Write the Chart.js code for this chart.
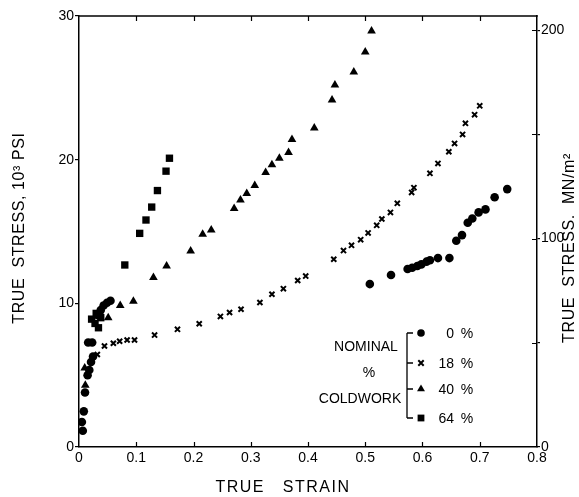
<!DOCTYPE html>
<html>
<head>
<meta charset="utf-8">
<script src="https://cdn.jsdelivr.net/npm/chart.js@4/dist/chart.umd.min.js"></script>
<style>
html,body{margin:0;padding:0;background:#fff;}
canvas{display:block;}
</style>
</head>
<body>
<canvas id="c" width="579" height="497"></canvas>
<script>
// ---- data (true strain, true stress in 10^3 psi) ----
const strain0 = [0.005, 0.0066, 0.0084, 0.0105, 0.015, 0.018, 0.021, 0.0245, 0.016, 0.023, 0.032, 0.038, 0.043, 0.049, 0.055, 0.508, 0.545, 0.574, 0.582, 0.591, 0.598, 0.607, 0.613, 0.627, 0.647, 0.659, 0.669, 0.679, 0.687, 0.698, 0.710, 0.726, 0.748];
const stress0 = [1.74, 1.13, 2.48, 3.79, 5.0, 5.36, 5.92, 6.3, 7.27, 7.27, 9.19, 9.53, 9.85, 10.04, 10.18, 11.34, 11.97, 12.39, 12.48, 12.6, 12.71, 12.9, 13.0, 13.15, 13.15, 14.36, 14.75, 15.61, 15.91, 16.33, 16.54, 17.38, 17.95];

const strain18 = [0.032, 0.0445, 0.060, 0.071, 0.084, 0.097, 0.132, 0.172, 0.210, 0.247, 0.263, 0.283, 0.316, 0.337, 0.357, 0.382, 0.396, 0.445, 0.462, 0.476, 0.492, 0.505, 0.520, 0.529, 0.544, 0.556, 0.581, 0.585, 0.613, 0.627, 0.646, 0.656, 0.670, 0.675, 0.691, 0.700];
const stress18 = [6.44, 7.03, 7.22, 7.36, 7.45, 7.45, 7.79, 8.19, 8.58, 9.09, 9.36, 9.59, 10.06, 10.63, 11.02, 11.59, 11.9, 13.07, 13.67, 14.04, 14.43, 14.9, 15.43, 15.87, 16.33, 16.96, 17.72, 18.05, 19.05, 19.74, 20.55, 21.13, 21.76, 22.53, 23.13, 23.75];

const strain40 = [0.010, 0.011, 0.051, 0.072, 0.095, 0.130, 0.153, 0.195, 0.216, 0.231, 0.271, 0.282, 0.293, 0.307, 0.326, 0.337, 0.350, 0.366, 0.372, 0.411, 0.442, 0.447, 0.480, 0.500, 0.511];
const stress40 = [5.5, 4.3, 9.0, 9.85, 10.15, 11.8, 12.6, 13.65, 14.8, 15.1, 16.6, 17.2, 17.65, 18.2, 19.1, 19.65, 20.1, 20.5, 21.4, 22.2, 24.15, 25.2, 26.1, 27.5, 28.95];

const strain64 = [0.022, 0.028, 0.034, 0.030, 0.038, 0.080, 0.106, 0.117, 0.127, 0.137, 0.152, 0.158];
const stress64 = [8.9, 8.6, 8.3, 9.3, 9.0, 12.67, 14.87, 15.8, 16.7, 17.85, 19.2, 20.1];

// ---- ticks / labels ----
const xTicks = [0, 0.1, 0.2, 0.3, 0.4, 0.5, 0.6, 0.7, 0.8];
const yTicks = [0, 10, 20, 30];
const mnTicks = [0, 50, 100, 150, 200];
const mnTickLabels = ['0', '', '100', '', '200'];
const legendPercents = ['0', '18', '40', '64'];
const legendStyles = ['circle', 'crossRot', 'triangle', 'rect'];
const legendWords = ['NOMINAL', '%', 'COLDWORK'];
const KSI_TO_MN = 6.89476;

const FONT = "'Liberation Sans', Arial, Helvetica, sans-serif";

function pts(xs, ys) { return xs.map((x, i) => ({ x: x, y: ys[i] })); }

function drawMarker(ctx, style, x, y, r) {
  ctx.save();
  ctx.fillStyle = '#000';
  ctx.strokeStyle = '#000';
  ctx.beginPath();
  if (style === 'circle') {
    ctx.arc(x, y, r, 0, Math.PI * 2);
    ctx.fill();
  } else if (style === 'crossRot') {
    ctx.lineWidth = 2;
    const d = r * 0.75;
    ctx.moveTo(x - d, y - d); ctx.lineTo(x + d, y + d);
    ctx.moveTo(x + d, y - d); ctx.lineTo(x - d, y + d);
    ctx.stroke();
  } else if (style === 'triangle') {
    ctx.moveTo(x, y - r);
    ctx.lineTo(x + r * 0.866, y + r * 0.5);
    ctx.lineTo(x - r * 0.866, y + r * 0.5);
    ctx.closePath();
    ctx.fill();
  } else {
    const s = r * 0.7071;
    ctx.fillRect(x - s, y - s, 2 * s, 2 * s);
  }
  ctx.restore();
}

const decor = {
  id: 'decor',
  afterDraw(chart) {
    const ctx = chart.ctx;
    const a = chart.chartArea;
    const sx = chart.scales.x;
    const sy2 = chart.scales.y2;
    ctx.save();
    ctx.strokeStyle = '#000';
    // top frame line
    ctx.lineWidth = 1.5;
    ctx.beginPath();
    ctx.moveTo(a.left - 0.75, a.top);
    ctx.lineTo(a.right + 0.75, a.top);
    ctx.stroke();
    // inward ticks on top and bottom
    ctx.lineWidth = 1.2;
    ctx.beginPath();
    xTicks.forEach(v => {
      if (v <= 0 || v >= 0.8) return;
      const px = Math.round(sx.getPixelForValue(v)) + 0.5;
      ctx.moveTo(px, a.bottom); ctx.lineTo(px, a.bottom - 5);
      ctx.moveTo(px, a.top); ctx.lineTo(px, a.top + 5);
    });
    // inward ticks on right axis
    mnTicks.forEach(v => {
      if (v <= 0) return;
      const py = Math.round(sy2.getPixelForValue(v)) + 0.5;
      ctx.moveTo(a.right, py); ctx.lineTo(a.right - 5, py);
    });
    ctx.stroke();

    // axis titles
    ctx.fillStyle = '#000';
    ctx.textBaseline = 'middle';
    ctx.textAlign = 'center';
    ctx.font = '16px ' + FONT;
    try { ctx.letterSpacing = '1.5px'; } catch (e) {}
    ctx.fillText('TRUE   STRAIN', 283, 488);

    try { ctx.letterSpacing = '0.6px'; } catch (e) {}
    ctx.save();
    ctx.translate(20, 228);
    ctx.rotate(-Math.PI / 2);
    ctx.fillText('TRUE  STRESS, 10\u00B3 PSI', 0, 0);
    ctx.restore();

    ctx.save();
    ctx.translate(570, 248);
    ctx.rotate(-Math.PI / 2);
    ctx.fillText('TRUE  STRESS.  MN/m\u00B2', 0, 0);
    ctx.restore();
    try { ctx.letterSpacing = '0px'; } catch (e) {}

    // legend (bracketed)
    const bx = a.right - 130;
    const rows = [333, 363, 389, 418];
    ctx.lineWidth = 1.3;
    ctx.beginPath();
    ctx.moveTo(bx, rows[0]); ctx.lineTo(bx, rows[3]);
    rows.forEach(ry => { ctx.moveTo(bx, ry); ctx.lineTo(bx + 6, ry); });
    ctx.stroke();
    ctx.font = '14px ' + FONT;
    rows.forEach((ry, i) => {
      const st = legendStyles[i];
      const r = st === 'circle' ? 3.8 : st === 'crossRot' ? 3.6 : st === 'triangle' ? 4.6 : 4.8;
      drawMarker(ctx, st, bx + 14, ry, r);
      ctx.textAlign = 'right';
      ctx.fillText(legendPercents[i], bx + 47, ry + 1);
      ctx.textAlign = 'center';
      ctx.fillText('%', bx + 60, ry + 1);
    });
    ctx.textAlign = 'center';
    ctx.fillText(legendWords[0], 366, 347);
    ctx.fillText(legendWords[1], 369, 373);
    ctx.fillText(legendWords[2], 360, 399);
    ctx.restore();
  }
};

const tickFont = { family: FONT, size: 14 };

new Chart(document.getElementById('c'), {
  type: 'scatter',
  data: {
    datasets: [
      { label: '0 %', data: pts(strain0, stress0), pointStyle: 'circle', pointRadius: 4.3,
        backgroundColor: '#000', borderColor: '#000', borderWidth: 0 },
      { label: '18 %', data: pts(strain18, stress18), pointStyle: 'crossRot', pointRadius: 3.6,
        backgroundColor: '#000', borderColor: '#000', borderWidth: 2 },
      { label: '40 %', data: pts(strain40, stress40), pointStyle: 'triangle', pointRadius: 5,
        backgroundColor: '#000', borderColor: '#000', borderWidth: 0 },
      { label: '64 %', data: pts(strain64, stress64), pointStyle: 'rect', pointRadius: 5.2,
        backgroundColor: '#000', borderColor: '#000', borderWidth: 0 }
    ]
  },
  options: {
    responsive: false,
    animation: false,
    devicePixelRatio: 1,
    layout: { padding: { top: 16, left: 0, right: 0, bottom: 0 } },
    plugins: { legend: { display: false }, tooltip: { enabled: false } },
    scales: {
      x: {
        type: 'linear', position: 'bottom', min: 0, max: 0.8,
        afterBuildTicks: s => { s.ticks = xTicks.map(v => ({ value: v })); },
        ticks: { color: '#000', font: tickFont, padding: 3, maxRotation: 0, autoSkip: false,
          callback: v => (v === 0 ? '0' : Number(v).toFixed(1)) },
        grid: { display: false, drawTicks: false },
        border: { display: true, color: '#000', width: 1.5 },
        afterFit: s => { s.height = 50; }
      },
      y: {
        type: 'linear', position: 'left', min: 0, max: 30,
        afterBuildTicks: s => { s.ticks = yTicks.map(v => ({ value: v })); },
        ticks: { color: '#000', font: tickFont, padding: 1,
          callback: v => String(v) },
        grid: { display: true, drawOnChartArea: false, drawTicks: true, tickLength: 4, color: '#000', lineWidth: 1.2 },
        border: { display: true, color: '#000', width: 1.5 },
        afterFit: s => { s.width = 79; }
      },
      y2: {
        type: 'linear', position: 'right', min: 0, max: 30 * KSI_TO_MN,
        afterBuildTicks: s => { s.ticks = mnTicks.map(v => ({ value: v })); },
        ticks: { color: '#000', font: tickFont, padding: 1,
          callback: (v, i) => mnTickLabels[i] },
        grid: { display: true, drawOnChartArea: false, drawTicks: true, tickLength: 3, color: '#000', lineWidth: 1.2 },
        border: { display: true, color: '#000', width: 1.5 },
        afterFit: s => { s.width = 42; }
      }
    }
  },
  plugins: [decor]
});
</script>
</body>
</html>
